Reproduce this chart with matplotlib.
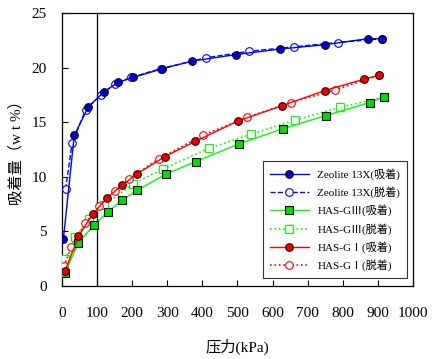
import matplotlib
matplotlib.use('Agg')
import matplotlib.pyplot as plt

plt.rcParams['font.family'] = ['Liberation Serif', 'Noto Sans CJK JP']

# Zeolite 13X
zeo_ads_p = [4, 35, 75, 120, 160, 203, 286, 371, 497, 621, 749, 871, 912]
zeo_ads_q = [4.3, 13.8, 16.4, 17.8, 18.65, 19.1, 19.9, 20.6, 21.2, 21.7, 22.1, 22.65, 22.65]
zeo_des_p = [10, 29, 67, 110, 151, 196, 281, 410, 534, 660, 786, 912]
zeo_des_q = [8.85, 13.1, 16.1, 17.5, 18.5, 19.1, 19.9, 20.9, 21.5, 21.9, 22.3, 22.65]

# HAS-GIII
g3_ads_p = [8, 47, 90, 132, 172, 214, 296, 382, 503, 629, 751, 877, 916]
g3_ads_q = [1.2, 3.95, 5.55, 6.8, 7.9, 8.75, 10.25, 11.4, 13.0, 14.4, 15.6, 16.8, 17.3]
g3_des_p = [9, 37, 78, 120, 203, 287, 418, 539, 665, 791, 916]
g3_des_q = [2.45, 4.45, 6.15, 7.4, 9.35, 10.7, 12.6, 13.9, 15.2, 16.35, 17.3]

# HAS-GI
g1_ads_p = [9, 47, 88, 129, 172, 213, 293, 380, 501, 626, 749, 861, 903]
g1_ads_q = [1.4, 4.55, 6.6, 8.1, 9.25, 10.25, 11.85, 13.25, 15.1, 16.5, 17.9, 18.95, 19.3]
g1_des_p = [6, 26, 66, 106, 151, 191, 276, 401, 527, 652, 777, 903]
g1_des_q = [1.8, 3.55, 5.75, 7.35, 8.7, 9.8, 11.65, 13.8, 15.45, 16.8, 17.95, 19.3]

fig = plt.figure(figsize=(4.32, 3.59), dpi=100)
ax = fig.add_axes([0.1435, 0.2033, 0.8125, 0.7604])

ms = 5.5
ax.plot(zeo_ads_p, zeo_ads_q, '-', color='#0000ff', lw=1, marker='o', ms=ms,
        mfc='#0000cc', mec='#000033', mew=0.8, label='Zeolite 13X(吸着)', zorder=4)
ax.plot(zeo_des_p, zeo_des_q, '--', color='#0000ff', lw=1, marker='o', ms=ms,
        mfc='white', mec='#0000ff', mew=0.8, label='Zeolite 13X(脱着)', zorder=3)
ax.plot(g3_ads_p, g3_ads_q, '-', color='#00ff00', lw=1, marker='s', ms=ms,
        mfc='#00dd00', mec='#000000', mew=0.8, label='HAS-GⅢ(吸着)', zorder=4)
ax.plot(g3_des_p, g3_des_q, ':', color='#00ff00', lw=1.2, marker='s', ms=ms,
        mfc='white', mec='#00ff00', mew=0.8, label='HAS-GⅢ(脱着)', zorder=3)
ax.plot(g1_ads_p, g1_ads_q, '-', color='#ff0000', lw=1, marker='o', ms=ms,
        mfc='#ee0000', mec='#330000', mew=0.8, label='HAS-GⅠ(吸着)', zorder=4)
ax.plot(g1_des_p, g1_des_q, ':', color='#ff0000', lw=1.2, marker='o', ms=ms,
        mfc='white', mec='#ff0000', mew=0.8, label='HAS-GⅠ(脱着)', zorder=3)

ax.axvline(100, color='black', lw=0.9, zorder=2)

ax.set_xlim(0, 1000)
ax.set_ylim(0, 25)
ax.set_xticks(range(0, 1001, 100))
ax.set_yticks(range(0, 26, 5))
ax.tick_params(direction='in', labelsize=11, length=4)
ax.tick_params(axis='x', pad=15)
ax.tick_params(axis='y', pad=11)
for s in ax.spines.values():
    s.set_linewidth(0.9)

ax.set_xlabel('压力(kPa)', fontsize=11, labelpad=14)
ax.set_ylabel('吸着量（w t %）', fontsize=11, labelpad=5.5)

leg = ax.legend(loc='lower right', bbox_to_anchor=(0.983, 0.029), borderaxespad=0,
                fontsize=8, frameon=True, fancybox=False, edgecolor='black',
                handlelength=3.5, labelspacing=0.6, borderpad=0.6)
leg.get_frame().set_linewidth(0.8)

fig.savefig('out.png', dpi=100)
